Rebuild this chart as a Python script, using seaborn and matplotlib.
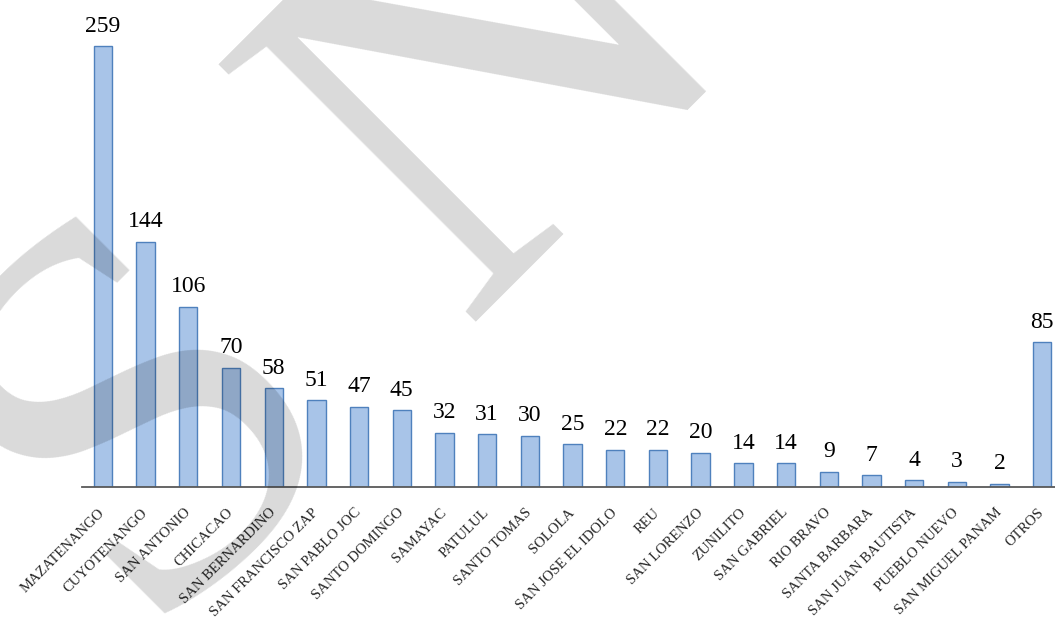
import matplotlib
matplotlib.use('agg')
import matplotlib.pyplot as plt
import seaborn as sns

sns.set_theme(style="white")
plt.rcParams['font.family'] = ['Liberation Serif', 'DejaVu Serif']

# casos por municipio
municipios = ['MAZATENANGO', 'CUYOTENANGO', 'SAN ANTONIO', 'CHICACAO', 'SAN BERNARDINO',
              'SAN FRANCISCO ZAP', 'SAN PABLO JOC', 'SANTO DOMINGO', 'SAMAYAC', 'PATULUL',
              'SANTO TOMAS', 'SOLOLA', 'SAN JOSE EL IDOLO', 'REU', 'SAN LORENZO', 'ZUNILITO',
              'SAN GABRIEL', 'RIO BRAVO', 'SANTA BARBARA', 'SAN JUAN BAUTISTA', 'PUEBLO NUEVO',
              'SAN MIGUEL PANAM', 'OTROS']
casos = [259, 144, 106, 70, 58, 51, 47, 45, 32, 31, 30, 25, 22, 22, 20, 14, 14, 9, 7, 4, 3, 2, 85]

fig = plt.figure(figsize=(10.55, 6.31), dpi=100)
ax = fig.add_axes([82 / 1055, 144 / 631, 1 - 82 / 1055, 1 - 144 / 631])

sns.barplot(x=municipios, y=casos, color='#A8C4E8', saturation=1, width=0.43,
            edgecolor='#4F81BD', linewidth=1, ax=ax)

# etiquetas de valor encima de cada barra
for i, v in enumerate(casos):
    ax.annotate(str(v), xy=(i, v), xytext=(0, 10.5), textcoords='offset points',
                ha='center', va='baseline', fontsize=17, color='black')

ax.set_xlim(-0.49, 22.3)
ax.set_ylim(0, 286.3)
ax.set_yticks([])
ax.set_xlabel('')
ax.set_ylabel('')
sns.despine(ax=ax, left=True)
ax.spines['bottom'].set_color('#595959')
ax.spines['bottom'].set_linewidth(1.3)

ax.set_xticks(range(len(municipios)))
ax.set_xticklabels(municipios, rotation=45, ha='right', va='center',
                   rotation_mode='anchor', fontsize=10.5)
ax.tick_params(axis='x', length=0, pad=17)

# marca de agua
fig.text(148 / 1055, 1 - 649 / 631, 'S N', fontsize=400, rotation=45,
         rotation_mode='anchor', ha='left', va='baseline',
         color='black', alpha=0.15, zorder=10)

fig.savefig('out.png', dpi=100)
plt.close(fig)
